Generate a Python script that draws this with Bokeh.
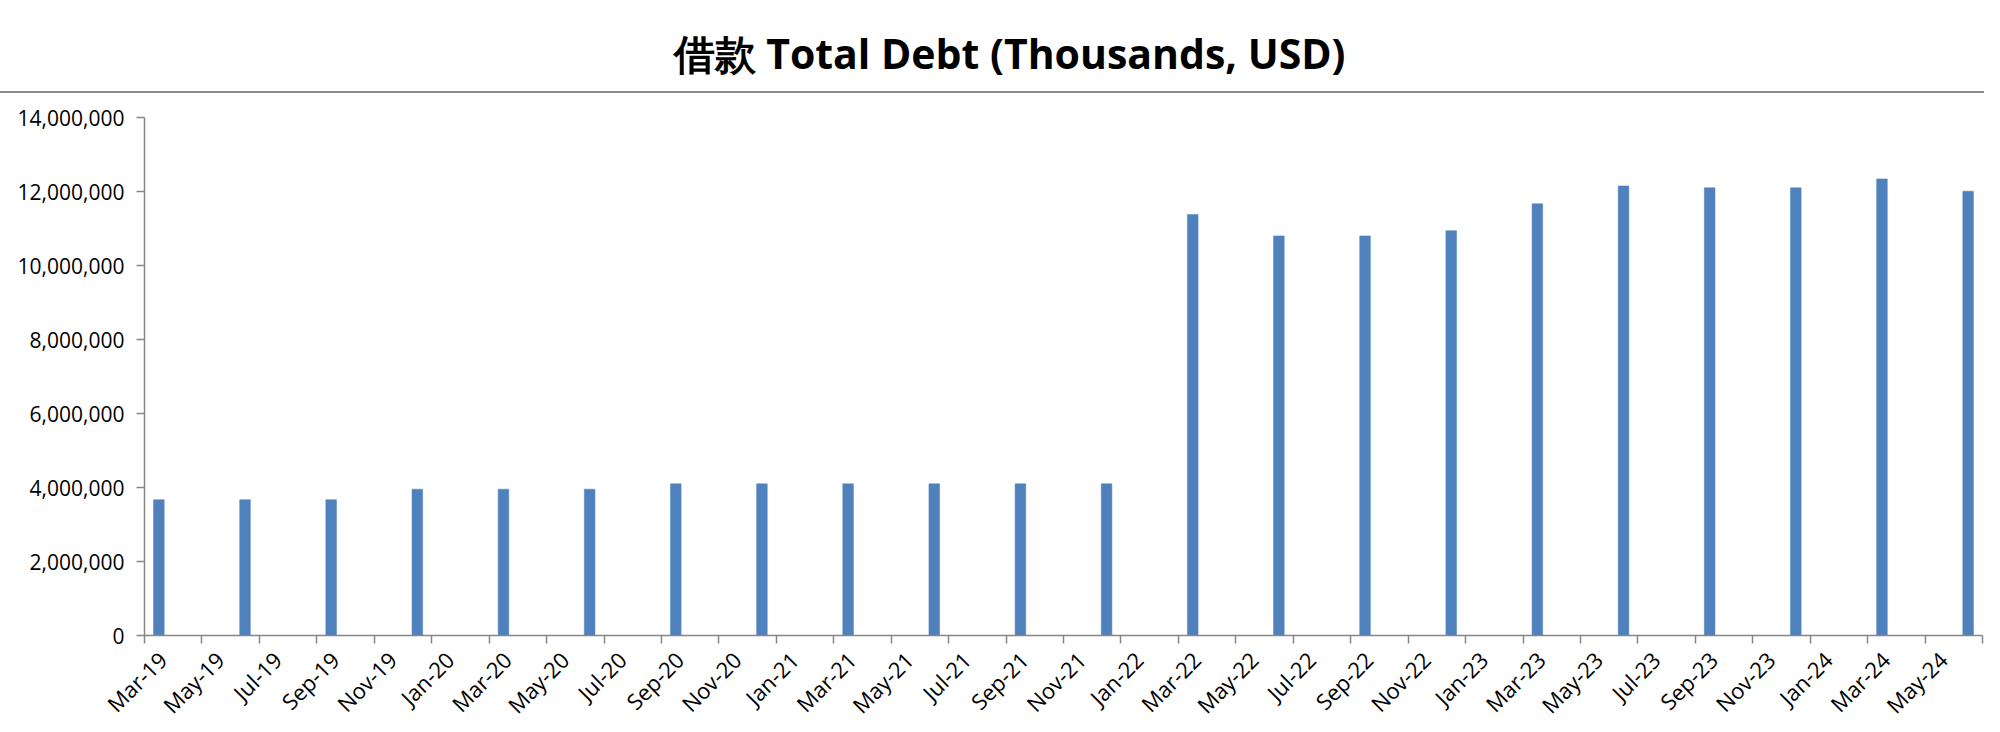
import math
from bokeh.plotting import figure
from bokeh.layouts import column
from bokeh.models import FixedTicker, NumeralTickFormatter, Range1d, Spacer
from bokeh.core.properties import value
from bokeh.embed import file_html
from bokeh.resources import INLINE

title_text = "借款 Total Debt (Thousands, USD)"

quarters = ["Mar-19", "Jun-19", "Sep-19", "Dec-19", "Mar-20", "Jun-20", "Sep-20", "Dec-20",
            "Mar-21", "Jun-21", "Sep-21", "Dec-21", "Mar-22", "Jun-22", "Sep-22", "Dec-22",
            "Mar-23", "Jun-23", "Sep-23", "Dec-23", "Mar-24", "Jun-24"]
total_debt = [3670000, 3670000, 3670000, 3955000, 3955000, 3955000, 4100000, 4100000,
              4100000, 4100000, 4100000, 4100000, 11380000, 10800000, 10800000, 10940000,
              11670000, 12150000, 12100000, 12100000, 12340000, 12010000]

axis_start = "Mar-19"
axis_end = "Jul-24"
tick_labels = ["Mar-19", "May-19", "Jul-19", "Sep-19", "Nov-19", "Jan-20", "Mar-20", "May-20",
               "Jul-20", "Sep-20", "Nov-20", "Jan-21", "Mar-21", "May-21", "Jul-21", "Sep-21",
               "Nov-21", "Jan-22", "Mar-22", "May-22", "Jul-22", "Sep-22", "Nov-22", "Jan-23",
               "Mar-23", "May-23", "Jul-23", "Sep-23", "Nov-23", "Jan-24", "Mar-24", "May-24"]
y_ticks = [0, 2000000, 4000000, 6000000, 8000000, 10000000, 12000000, 14000000]

MONTHS = ["Jan", "Feb", "Mar", "Apr", "May", "Jun", "Jul", "Aug", "Sep", "Oct", "Nov", "Dec"]


def month_num(s):
    mon, yy = s.split("-")
    return (2000 + int(yy)) * 12 + MONTHS.index(mon)


def month_idx(s):
    return month_num(s) - month_num(axis_start)


BAR = "#4F81BD"
AXIS = "#868686"

W = 1984
TOTAL_H = 732
L, R = 144, 2          # left / right borders of the plot frame
TOP_H = 91             # title strip height
LINE_H = 2             # separator line
P_H = TOTAL_H - TOP_H - LINE_H
FRAME_TOP = 117
FRAME_BOTTOM = 635

# ---- title strip (frame aligned with the chart frame, x in canvas pixels) ----
t = figure(width=W, height=TOP_H, x_range=Range1d(L, W - R), y_range=Range1d(0, TOP_H),
           output_backend="svg", toolbar_location=None,
           min_border_left=L, min_border_right=R, min_border_top=0, min_border_bottom=0)
t.axis.visible = False
t.grid.grid_line_color = None
t.outline_line_color = None
t.text(x=[1009], y=[TOP_H - 52], text=[title_text], text_align="center",
       text_baseline="middle", text_font=value("Open Sans"),
       text_font_style="bold", text_font_size="41px", text_color="#000000")

sep = Spacer(width=W, height=LINE_H, styles={"background-color": "#8C8C8C"})

# ---- main chart ----
x_end = month_idx(axis_end)
bar_x = [month_idx(q) + 0.5 for q in quarters]

top_border = FRAME_TOP - TOP_H - LINE_H
p = figure(width=W, height=P_H, x_range=Range1d(0, x_end),
           y_range=Range1d(y_ticks[0], y_ticks[-1]),
           output_backend="svg", toolbar_location=None,
           min_border_left=L, min_border_right=R,
           min_border_top=top_border,
           min_border_bottom=P_H - top_border - (FRAME_BOTTOM - FRAME_TOP))
p.grid.grid_line_color = None
p.outline_line_color = None
p.vbar(x=bar_x, top=total_debt, width=0.37, bottom=0, fill_color=BAR, line_color=BAR,
       line_width=0.5)

# x axis: tick marks at month starts (minor ticks), labels Excel-style just right of them
off = 0.625
tick_pos = [month_idx(s) for s in tick_labels] + [x_end]
p.xaxis.ticker = FixedTicker(ticks=[month_idx(s) + off for s in tick_labels],
                             minor_ticks=tick_pos)
p.xaxis.major_label_overrides = {month_idx(s) + off: s for s in tick_labels}
p.xaxis.major_label_orientation = math.pi / 4
p.xaxis.major_tick_line_color = None
p.xaxis.major_tick_out = 0
p.xaxis.major_tick_in = 0
p.xaxis.minor_tick_line_color = AXIS
p.xaxis.minor_tick_line_width = 1.5
p.xaxis.minor_tick_out = 8
p.xaxis.minor_tick_in = 0
p.xaxis.major_label_standoff = 12
p.xaxis.major_label_text_font_size = "22px"

p.yaxis.ticker = FixedTicker(ticks=y_ticks)
p.yaxis.formatter = NumeralTickFormatter(format="0,0")
p.yaxis.major_tick_line_color = AXIS
p.yaxis.major_tick_line_width = 1.5
p.yaxis.major_tick_out = 8
p.yaxis.major_tick_in = 0
p.yaxis.minor_tick_line_color = None
p.yaxis.major_label_standoff = 12
p.yaxis.major_label_text_font_size = "21px"

for ax in (p.xaxis[0], p.yaxis[0]):
    ax.axis_line_color = AXIS
    ax.axis_line_width = 1.5
    ax.major_label_text_font = "Open Sans"
    ax.major_label_text_color = "#000000"

layout = column(t, sep, p, spacing=0)
open("out.html", "w").write(file_html(layout, INLINE))
